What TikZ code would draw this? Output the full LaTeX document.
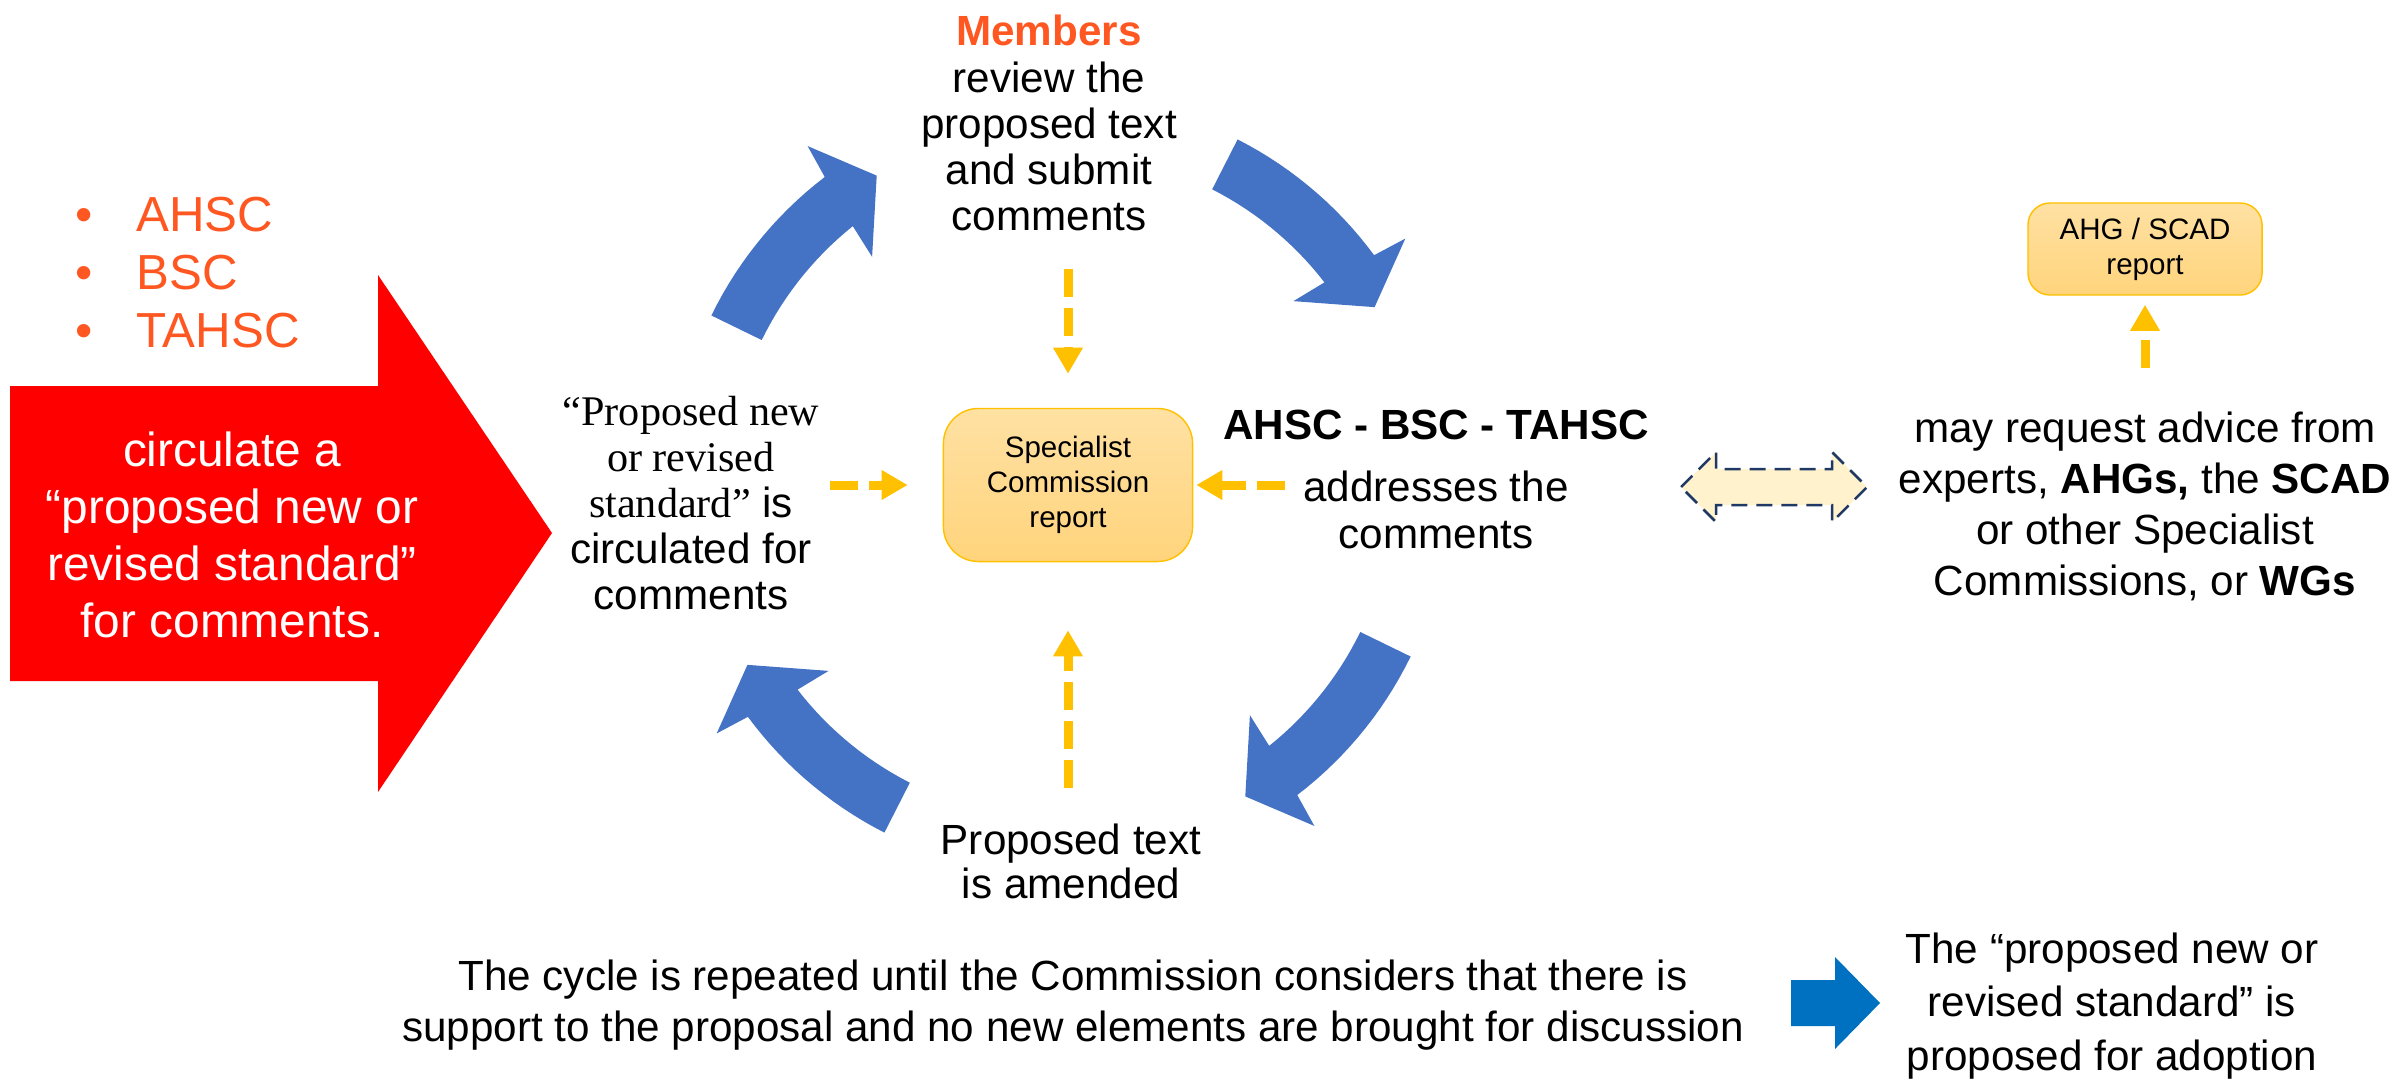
\documentclass[tikz,border=0pt]{standalone}
\usepackage{fontspec}
\setmainfont{Liberation Sans}
\newfontfamily\serifface{Liberation Serif}
\usepackage{xcolor}
\usetikzlibrary{arrows.meta, positioning, calc}

\definecolor{cycblue}{HTML}{4472C4}
\definecolor{adoptblue}{HTML}{0070C0}
\definecolor{flagred}{HTML}{FF0000}
\definecolor{orng}{HTML}{FF5722}
\definecolor{gold}{HTML}{FFC000}
\definecolor{boxtop}{HTML}{FFE1A3}
\definecolor{boxbot}{HTML}{FFD47C}
\definecolor{cream}{HTML}{FFF2CC}
\definecolor{navy}{HTML}{1F3864}

\begin{document}
\begin{tikzpicture}[
    x=0.01cm, y=-0.01cm,
    txt/.style={align=center, inner sep=0pt, font=\fontsize{12}{13.1}\selectfont},
    report/.style={draw=gold, line width=0.4pt, rounded corners=3.5mm, top color=boxtop,
                   bottom color=boxbot, align=center, inner sep=0pt,
                   font=\fontsize{8.4}{10}\selectfont},
    dasharr/.style={draw=gold, line width=0.9mm, dash pattern=on 2.8mm off 1.1mm,
                    -{Triangle[length=2.6mm, width=2.8mm]}},
    node distance=0.3cm
]
\useasboundingbox (0,0) rectangle (2400,1078);

\node[report, minimum width=2.49cm, minimum height=1.53cm] (scr) at (1068,485)
    {Specialist\\Commission\\report};

\coordinate (hub) at (1061,486);
\begin{scope}[shift={(hub)}]
\foreach \a in {26,117,206,297}
    \fill[cycblue] plot[domain=\a:\a+25.3, samples=16] (\x:333) -- (\a+24.5:297)
        -- (\a+33.3:361) -- (\a+27.3:424) -- (\a+26.6:389)
        -- plot[domain=\a+26.6:\a, samples=16] (\x:389) -- cycle;
\end{scope}

\fill[flagred] (10,386) -- (378,386) -- (378,275) -- (552,533) -- (378,792)
    -- (378,681) -- (10,681) -- cycle;
\node[txt, text=white, font=\fontsize{13.6}{16.2}\selectfont] (circ) at (232,535)
    {circulate a\\“proposed new or\\revised standard”\\for comments.};
\node[txt, align=left, anchor=west, text=orng, font=\fontsize{14}{16.5}\selectfont] (groups)
    at (75,273) {•\hspace{12.4pt}AHSC\\•\hspace{12.4pt}BSC\\•\hspace{12.4pt}TAHSC};

\node[txt] (circd) at (691,503)
    {{\serifface “Proposed new}\\{\serifface or revised}\\{\serifface standard”} is\\circulated for\\comments};
\node[txt] (members) at (1049,123)
    {{\bfseries\color{orng}Members}\\review the\\proposed text\\and submit\\comments};
\node[txt, font=\bfseries\fontsize{12}{13.1}\selectfont] (sct) at (1436,425) {AHSC - BSC - TAHSC};
\node[txt, below=of sct] (addr) {addresses the\\comments};
\node[txt, font=\fontsize{12}{12.5}\selectfont] (amend) at (1071,861) {Proposed text\\is amended};

\node[txt, font=\fontsize{12}{14.5}\selectfont] (advice) at (2145,506)
    {may request advice from\\experts, \textbf{AHGs,} the \textbf{SCAD}\\or other Specialist\\Commissions, or \textbf{WGs}};
\node[report, minimum width=2.34cm, minimum height=0.92cm, rounded corners=2.2mm] (ahg)
    at (2145,249) {AHG / SCAD\\report};
\filldraw[fill=cream, draw=navy, line width=0.25mm, dash pattern=on 1.6mm off 0.9mm]
    (1681,487) -- (1716,452) -- (1716,469) -- (1832,469) -- (1832,452) -- (1867,487)
    -- (1832,522) -- (1832,505) -- (1716,505) -- (1716,522) -- cycle;

\node[txt, font=\fontsize{12}{14.5}\selectfont] (cycle) at (1073,1005)
    {The cycle is repeated until the Commission considers that there is\\support to the proposal and no new elements are brought for discussion};
\node[txt, font=\fontsize{12}{15.1}\selectfont] (adopt) at (2112,1006)
    {The “proposed new or\\revised standard” is\\proposed for adoption};
\fill[adoptblue] (1791,980) -- (1835,980) -- (1835,957) -- (1880,1003) -- (1835,1049)
    -- (1835,1026) -- (1791,1026) -- cycle;

\draw[dasharr, shorten <=3.8mm, shorten >=3.4mm] (members.south -| scr.north) -- (scr.north);
\draw[dasharr, shorten <=3.5mm, shorten >=6.8mm] (amend.north -| scr.south) -- (scr.south);
\draw[dasharr, shorten <=1mm, shorten >=3.5mm] (scr.west -| circd.east) -- (scr.west);
\draw[dasharr, shorten <=1.8mm, shorten >=0.3mm] (scr.east -| addr.west) -- (scr.east);
\draw[dasharr, shorten <=4.3mm, shorten >=0.9mm] (advice.north) -- (ahg.south);
\end{tikzpicture}
\end{document}
